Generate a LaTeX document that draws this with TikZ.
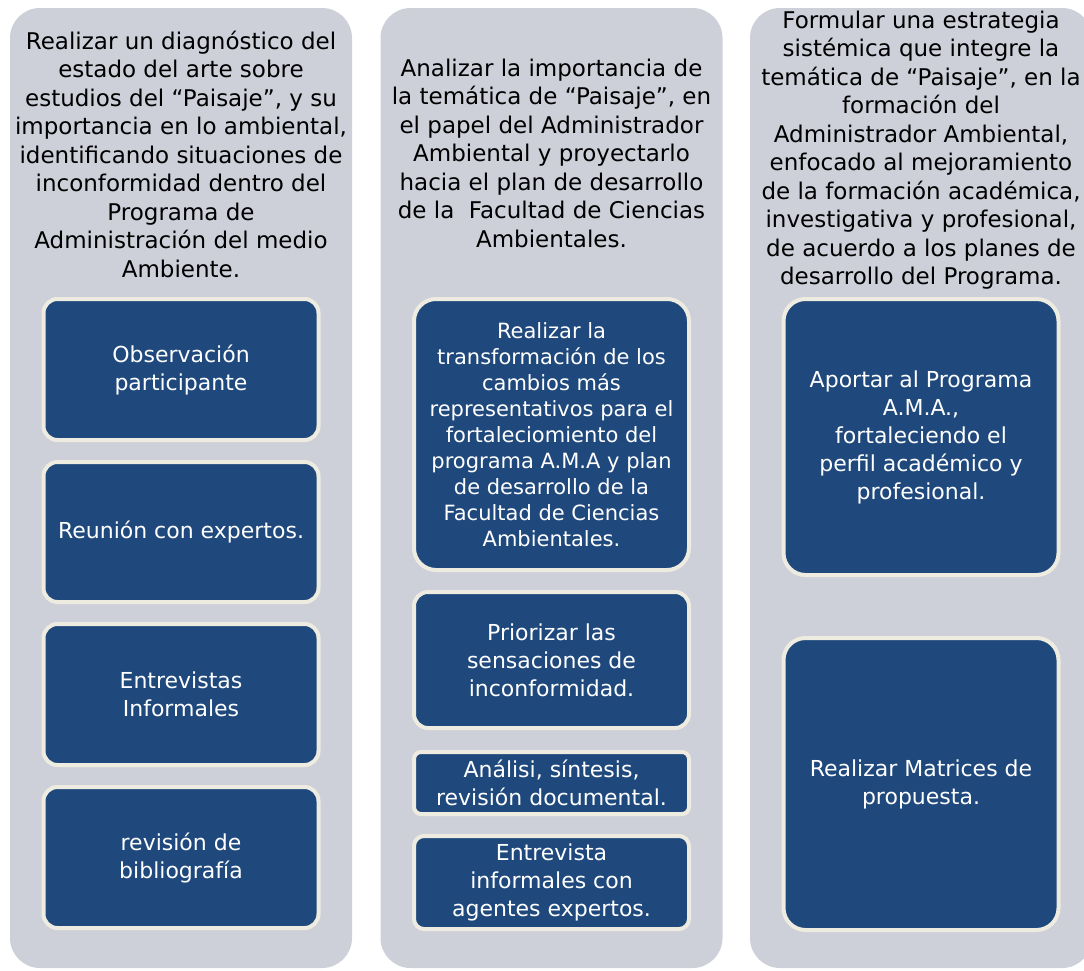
\documentclass[tikz,border=0pt]{standalone}
\usepackage{fontspec}
\setmainfont{DejaVu Sans}
\usepackage{tikz}
\usetikzlibrary{positioning}
\definecolor{panelgray}{RGB}{205,207,217}
\definecolor{taskblue}{RGB}{31,73,125}
\definecolor{taskrim}{RGB}{238,236,225}

\begin{document}
\begin{tikzpicture}[
  x=1pt, y=-1pt,
  node distance=18pt,
  panel/.style={
    rectangle, rounded corners=30pt,
    minimum width=342pt, minimum height=960pt,
    fill=panelgray, inner sep=0pt, outer sep=0pt
  },
  goal/.style={
    align=center, text=black, inner sep=0pt,
    font=\fontsize{23}{28.5}\selectfont
  },
  task/.style={
    rectangle, rounded corners=14pt,
    minimum width=275pt, align=center, inner sep=2pt,
    fill=taskblue, draw=taskrim, line width=4pt, text=white,
    font=\fontsize{22}{28}\selectfont
  }
]
\clip (0,0) rectangle (1084,970);
% Panels
\node[panel] (panelA) at (181,488)   {};
\node[panel] (panelB) at (551.5,488) {};
\node[panel] (panelC) at (921,488)   {};
% Objectives
\node[goal] (goalA) at (181,154) {Realizar un diagnóstico del\\estado del arte sobre\\estudios del “Paisaje”, y su\\importancia en lo ambiental,\\identificando situaciones de\\inconformidad dentro del\\Programa de\\Administración del medio\\Ambiente.};
\node[goal] (goalB) at (551.5,153) {Analizar la importancia de\\la temática de “Paisaje”, en\\el papel del Administrador\\Ambiental y proyectarlo\\hacia el plan de desarrollo\\de la\ \ Facultad de Ciencias\\Ambientales.};
\node[goal] (goalC) at (921,150) {Formular una estrategia\\sistémica que integre la\\temática de “Paisaje”, en la\\formación del\\Administrador Ambiental,\\enfocado al mejoramiento\\de la formación académica,\\investigativa y profesional,\\de acuerdo a los planes de\\desarrollo del Programa.};
% Left column
\node[task, minimum height=141pt, anchor=north] (observ) at (181,297) {Observación\\participante};
\node[task, minimum height=140pt] (reunion) [below=of observ]  {Reunión con expertos.};
\node[task, minimum height=141pt] (entrev)  [below=of reunion] {Entrevistas\\Informales};
\node[task, minimum height=141pt] (biblio)  [below=of entrev]  {revisión de\\bibliografía};
% Middle column
\node[task, minimum height=271pt, rounded corners=22pt, font=\fontsize{21}{26}\selectfont, anchor=north] (transf) at (551.5,297) {Realizar la\\transformación de los\\cambios más\\representativos para el\\fortaleciomiento del\\programa A.M.A y plan\\de desarrollo de la\\Facultad de Ciencias\\Ambientales.};
\node[task, minimum height=136pt] (prior)   [below=of transf]     {Priorizar las\\sensaciones de\\inconformidad.};
\node[task, minimum height=62pt, rounded corners=7pt] (analis)  [below=20pt of prior] {Análisi, síntesis,\\revisión documental.};
\node[task, minimum height=93pt, rounded corners=10pt] (agentes) [below=of analis] {Entrevista\\informales con\\agentes expertos.};
% Right column
\node[task, minimum height=276pt, rounded corners=22pt, anchor=north] (aportar) at (921,297) {Aportar al Programa\\A.M.A.,\\fortaleciendo el\\perfil académico y\\profesional.};
\node[task, minimum height=292pt, rounded corners=22pt] (matrices) [below=59pt of aportar] {Realizar Matrices de\\propuesta.};
\end{tikzpicture}
\end{document}
